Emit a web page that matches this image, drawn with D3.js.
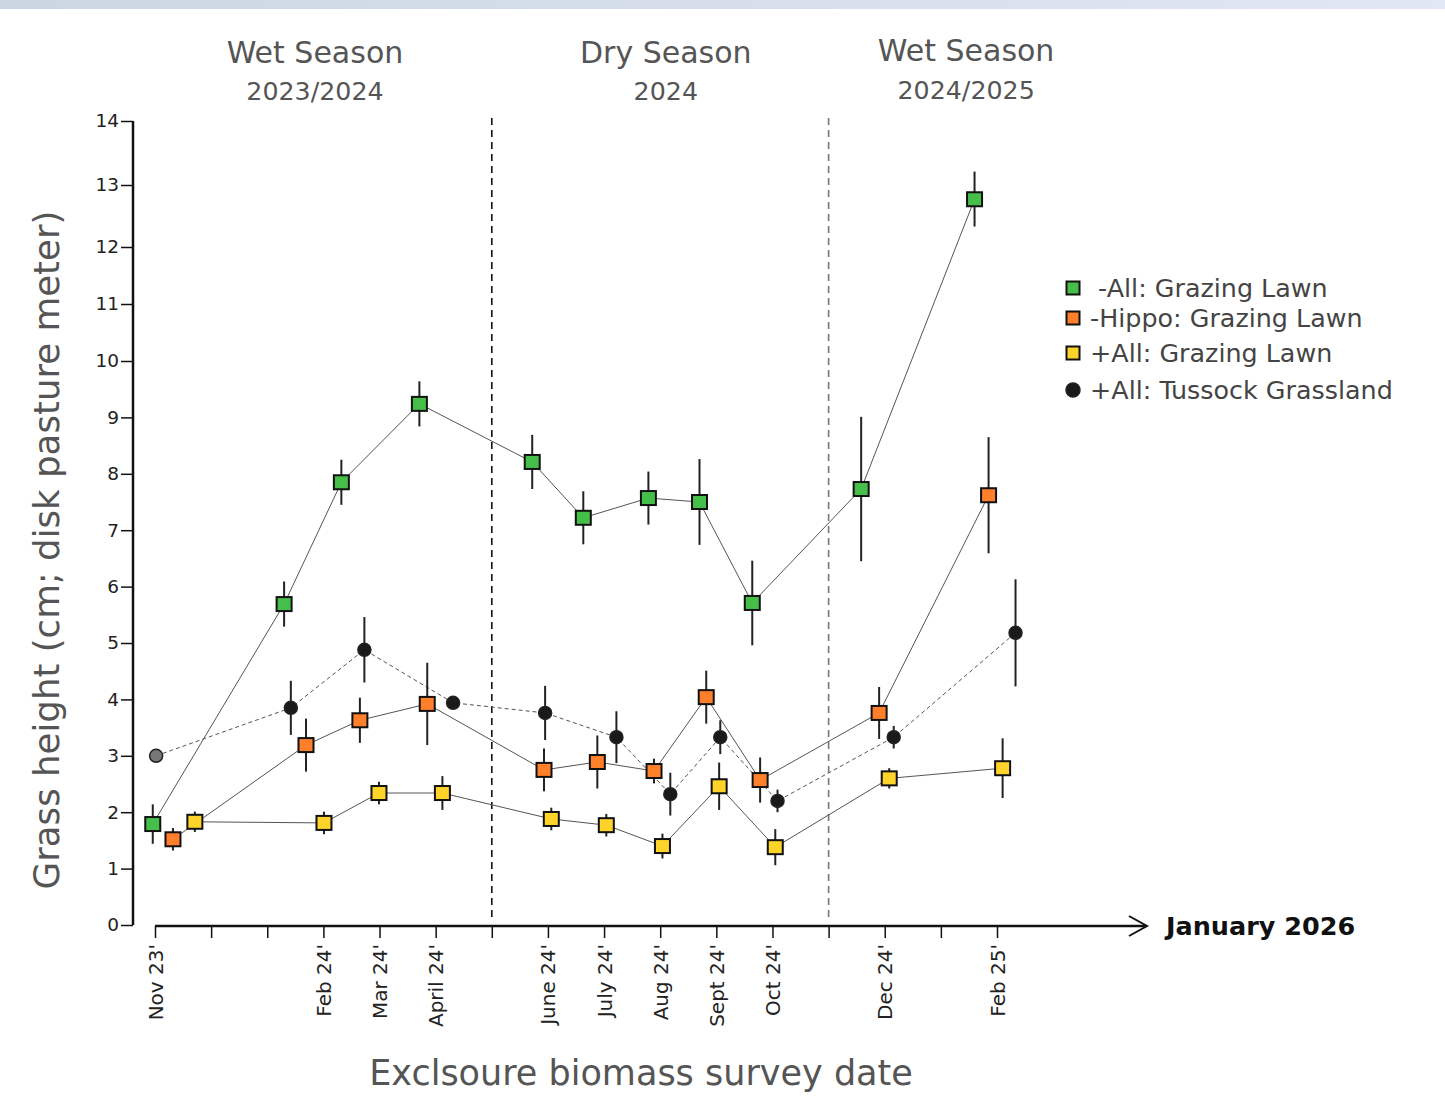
<!DOCTYPE html>
<html><head><meta charset="utf-8">
<script src="https://cdn.jsdelivr.net/npm/d3@7"></script>
<style>
html,body{margin:0;padding:0;background:#fff;}
svg{display:block;font-family:"DejaVu Sans",Verdana,sans-serif;}
</style></head><body>
<svg id="chart" width="1445" height="1117"></svg>
<script>
// ---------- data ----------
const monthLabels = ["Nov 23'", "", "", "Feb 24'", "Mar 24'", "April 24'", "", "June 24'", "July 24'", "Aug 24'", "Sept 24'", "Oct 24'", "", "Dec 24'", "", "Feb 25'"];
const yTicks = [0,1,2,3,4,5,6,7,8,9,10,11,12,13,14];
const seasons = [
  {name:"Wet Season", year:"2023/2024", mid:2.85},
  {name:"Dry Season", year:"2024", mid:9.1},
  {name:"Wet Season", year:"2024/2025", mid:14.45}
];
const seasonBreaks = [6, 12];

// month position (0 = Nov 23), mean, error
const allGrazingX   = [-0.04, 2.30, 3.32, 4.71, 6.72, 7.63, 8.79, 9.70, 10.64, 12.58, 14.60];
const allGrazingY   = [1.79, 5.69, 7.85, 9.24, 8.21, 7.22, 7.57, 7.50, 5.71, 7.73, 12.77];
const allGrazingE   = [0.35, 0.40, 0.40, 0.40, 0.48, 0.47, 0.47, 0.76, 0.75, 1.28, 0.44];

const hippoGrazingX = [0.32, 2.69, 3.65, 4.85, 6.93, 7.88, 8.89, 9.82, 10.78, 12.90, 14.85];
const hippoGrazingY = [1.52, 3.19, 3.63, 3.92, 2.75, 2.89, 2.73, 4.04, 2.57, 3.76, 7.62];
const hippoGrazingE = [0.20, 0.47, 0.40, 0.73, 0.38, 0.47, 0.22, 0.47, 0.40, 0.46, 1.03];

const plusGrazingX  = [0.71, 3.01, 3.99, 5.12, 7.06, 8.04, 9.04, 10.05, 11.05, 13.08, 15.10];
const plusGrazingY  = [1.83, 1.81, 2.34, 2.34, 1.88, 1.77, 1.40, 2.46, 1.38, 2.60, 2.78];
const plusGrazingE  = [0.18, 0.20, 0.20, 0.30, 0.20, 0.20, 0.22, 0.42, 0.32, 0.18, 0.53];

const tussockX      = [0.02, 2.42, 3.73, 5.31, 6.95, 8.22, 9.18, 10.07, 11.09, 13.16, 15.33];
const tussockY      = [3.00, 3.85, 4.88, 3.94, 3.76, 3.33, 2.32, 3.33, 2.20, 3.33, 5.18];
const tussockE      = [0.00, 0.48, 0.58, 0.10, 0.48, 0.46, 0.38, 0.30, 0.20, 0.20, 0.95];

const seriesNames  = [" -All: Grazing Lawn", "-Hippo: Grazing Lawn", "+All: Grazing Lawn", "+All: Tussock Grassland"];
const seriesColors = ["#46bf4a", "#ff7f2a", "#ffd42a", "#1a1a1a"];
const seriesShapes = ["square", "square", "square", "circle"];

// ---------- build ----------
const series = [
  {x:allGrazingX, y:allGrazingY, e:allGrazingE},
  {x:hippoGrazingX, y:hippoGrazingY, e:hippoGrazingE},
  {x:plusGrazingX, y:plusGrazingY, e:plusGrazingE},
  {x:tussockX, y:tussockY, e:tussockE}
].map((s,i)=>({
  name:seriesNames[i], color:seriesColors[i], shape:seriesShapes[i],
  pts:s.x.map((xv,j)=>({x:xv, y:s.y[j], e:s.e[j], j}))
}));

const svg = d3.select("#chart");

// top band
const defs = svg.append("defs");
const grad = defs.append("linearGradient").attr("id","band").attr("x1","0").attr("x2","1");
grad.append("stop").attr("offset","0").attr("stop-color","#ccd6e3");
grad.append("stop").attr("offset","1").attr("stop-color","#e1e7f4");
svg.append("rect").attr("x",0).attr("y",0).attr("width",1445).attr("height",9).attr("fill","url(#band)");

const x = d3.scaleLinear().domain([0,15]).range([155,997]);
const y = d3.scaleLinear().domain([0,10,11,12,13,14]).range([925,361,304,247,185,121]);

// season dividers
svg.selectAll(".div").data(seasonBreaks).join("line")
  .attr("x1",d=>x(d)).attr("x2",d=>x(d)).attr("y1",118).attr("y2",921)
  .attr("stroke",(d,i)=>i===0?"#111":"#777").attr("stroke-width",1.6)
  .attr("stroke-dasharray","7,5");

// season labels
const sl = svg.selectAll(".season").data(seasons).join("g");
sl.append("text").attr("x",d=>x(d.mid)).attr("y",(d,i)=>i===2?61:63).attr("text-anchor","middle")
  .attr("font-size",30).attr("fill","#555").text(d=>d.name);
sl.append("text").attr("x",d=>x(d.mid)).attr("y",(d,i)=>i===2?99:100).attr("text-anchor","middle")
  .attr("font-size",25.3).attr("fill","#555").text(d=>d.year);

// y axis
const yAxis = svg.append("g").attr("transform","translate(133,0)")
  .call(d3.axisLeft(y).tickValues(yTicks).tickSize(12).tickPadding(2).tickFormat(d3.format("d")));
yAxis.select(".domain").attr("stroke","#111").attr("stroke-width",2.5).attr("d","M0,121V925");
yAxis.selectAll(".tick line").attr("stroke","#111").attr("stroke-width",1.5);
yAxis.selectAll(".tick text").attr("font-size",18.5).attr("fill","#222").attr("font-family","DejaVu Sans, sans-serif");

// x axis
const xAxis = svg.append("g").attr("transform","translate(0,926)")
  .call(d3.axisBottom(x).tickValues(d3.range(0,16)).tickSize(12).tickFormat(d=>monthLabels[d]));
xAxis.select(".domain").remove();
xAxis.selectAll(".tick line").attr("stroke","#111").attr("stroke-width",1.5);
xAxis.selectAll(".tick text").attr("font-size",20).attr("fill","#222").attr("font-family","DejaVu Sans, sans-serif")
  .attr("text-anchor","end").attr("transform","rotate(-90)").attr("x",-18).attr("y",0).attr("dy","0.35em");
svg.append("line").attr("x1",x(0)).attr("x2",1146).attr("y1",926).attr("y2",926).attr("stroke","#111").attr("stroke-width",2.5);
svg.append("path").attr("d","M1129,916 L1147,926 L1129,936").attr("fill","none").attr("stroke","#111").attr("stroke-width",2);
svg.append("text").attr("x",1166).attr("y",935).attr("font-size",25.5).attr("font-weight","bold").attr("fill","#111").text("January 2026");

// axis titles
svg.append("text").attr("transform","translate(59,550) rotate(-90)").attr("text-anchor","middle")
  .attr("font-size",35.6).attr("fill","#555").text("Grass height (cm; disk pasture meter)");
svg.append("text").attr("x",641).attr("y",1085).attr("text-anchor","middle")
  .attr("font-size",35).attr("fill","#555").text("Exclsoure biomass survey date");

// lines
const line = d3.line().x(d=>x(d.x)).y(d=>y(d.y));
svg.selectAll(".sline").data(series).join("path")
  .attr("d",d=>line(d.pts)).attr("fill","none")
  .attr("stroke","#555").attr("stroke-width",1)
  .attr("stroke-dasharray",d=>d.shape==="circle"?"4,3":null);

// error bars
series.forEach(s=>{
  svg.append("g").selectAll("line").data(s.pts.filter(p=>p.e>0)).join("line")
    .attr("x1",p=>x(p.x)).attr("x2",p=>x(p.x))
    .attr("y1",p=>y(p.y+p.e)).attr("y2",p=>y(p.y-p.e))
    .attr("stroke","#222").attr("stroke-width",2);
});

// markers
series.forEach(s=>{
  const g = svg.append("g");
  if(s.shape==="square"){
    g.selectAll("rect").data(s.pts).join("rect")
      .attr("x",p=>x(p.x)-7.5).attr("y",p=>y(p.y)-7).attr("width",15).attr("height",14)
      .attr("fill",s.color).attr("stroke","#111").attr("stroke-width",2);
  } else {
    g.selectAll("circle").data(s.pts).join("circle")
      .attr("cx",p=>x(p.x)).attr("cy",p=>y(p.y)).attr("r",6.5)
      .attr("fill",p=>p.j===0?"#777":s.color).attr("stroke","#222").attr("stroke-width",1.5);
  }
});

// legend
const legendY = [288, 318, 353, 390];
const lg = svg.append("g");
series.forEach((s,i)=>{
  const g = lg.append("g").attr("transform",`translate(1073,${legendY[i]})`);
  if(s.shape==="square"){
    g.append("rect").attr("x",-6.5).attr("y",-6.5).attr("width",13).attr("height",13)
      .attr("fill",s.color).attr("stroke","#111").attr("stroke-width",2);
  } else {
    g.append("circle").attr("r",7).attr("fill",s.color).attr("stroke","#222").attr("stroke-width",1.5);
  }
  g.append("text").attr("x",17).attr("y",0).attr("dy","0.36em").attr("font-size",25.4)
    .attr("fill","#444").attr("xml:space","preserve").style("white-space","pre").text(s.name);
});
</script>
</body></html>
